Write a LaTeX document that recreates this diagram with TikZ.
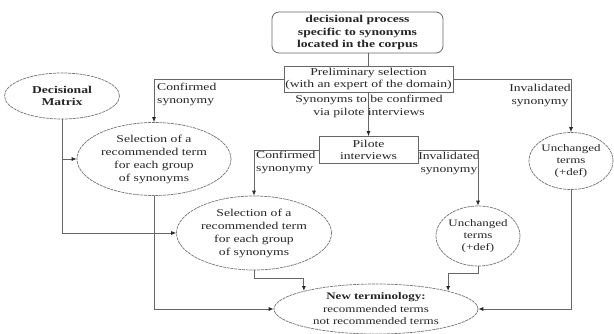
\documentclass[tikz,border=0pt]{standalone}
\usepackage{fontspec}
\setmainfont[FakeStretch=1.3]{Liberation Serif}
\usetikzlibrary{shapes.geometric,arrows.meta}

\begin{document}
\begin{tikzpicture}[x=1pt,y=-1pt,
  txt/.style={font=\fontsize{10.5}{13}\selectfont},
  every node/.style={txt, text=black!85, align=center},
  lbl/.style={inner sep=0pt},
  wire/.style={draw=black!60, line width=0.8pt},
  conn/.style={wire, -{Latex[length=5pt,width=4pt,color=black!85]}},
  oval/.style={ellipse, draw=black!55, line width=0.7pt,
    dash pattern=on 3pt off 0.8pt, inner sep=-1pt},
  boxnode/.style={rectangle, draw=black!60, line width=0.8pt, inner sep=0pt},
]
\fill[white] (0,0) rectangle (614,333);
\useasboundingbox (0,0) rectangle (614,333);

% process boxes
\node[boxnode, rounded corners=7pt, minimum width=171pt, minimum height=41pt,
  font=\bfseries\fontsize{10.5}{12.5}\selectfont] (top) at (357.5,32.5)
  {decisional process\\specific to synonyms\\located in the corpus};
\node[boxnode, minimum width=169pt, minimum height=26pt,
  font=\fontsize{10.5}{12}\selectfont] (prelim) at (368.5,79)
  {Preliminary selection\\(with an expert of the domain)};
\node[boxnode, minimum width=99pt, minimum height=27pt,
  font=\fontsize{10.5}{12}\selectfont] (pil) at (368.5,150)
  {Pilote\\interviews};

% ellipses
\node[oval, minimum width=115pt, minimum height=46pt,
  font=\bfseries\fontsize{10.5}{12}\selectfont] (dm) at (62,96)
  {Decisional\\Matrix};
\node[oval, minimum width=154pt, minimum height=73pt] (sel1) at (154,159)
  {Selection of a\\recommended term\\for each group\\of synonyms};
\node[oval, minimum width=84pt, minimum height=57pt,
  font=\fontsize{10}{12}\selectfont] (unch1) at (571,161)
  {Unchanged\\terms\\(+def)};
\node[oval, minimum width=155pt, minimum height=74pt] (sel2) at (254,233)
  {Selection of a\\recommended term\\for each group\\of synonyms};
\node[oval, minimum width=84pt, minimum height=60pt,
  font=\fontsize{10}{12}\selectfont] (unch2) at (478,236)
  {Unchanged\\terms\\(+def)};
\node[oval, minimum width=204pt, minimum height=50pt,
  font=\fontsize{10}{12.5}\selectfont] (nt) at (376,309)
  {\textbf{New terminology:}\\recommended terms\\not recommended terms};

% connector labels
\node[lbl, anchor=north west, align=left] (lc1) at (157,83) {Confirmed\\synonymy};
\node[lbl] (lmid) at (369,106.5) {Synonyms to be confirmed\\via pilote interviews};
\node[lbl] (li1) at (540,95) {Invalidated\\synonymy};
\node[lbl, anchor=north west, align=left] (lc2) at (256,151) {Confirmed\\synonymy};
\node[lbl] (li2) at (449,163) {Invalidated\\synonymy};

% connectors
\draw[wire] (top.south -| prelim.north) -- (prelim.north);
\draw[conn] (prelim.south) -- (pil.north);
\draw[conn] (prelim.west) -| (sel1.north);
\draw[conn] (prelim.east) -| (unch1.north);
\draw[conn] (dm.south) |- (sel2.west);
\draw[conn] (dm.south |- sel1.west) -- (sel1.west);
\draw[conn] (pil.west) -| (sel2.north);
\draw[conn] (pil.east) -| (unch2.north);
\draw[conn] (sel1.south) |- (nt.west);
\draw[conn] (unch1.south) |- (nt.east);
\draw[conn] (sel2.south) -- ++(0,8) -| (nt.166);
\draw[conn] (unch2.south) -- ++(0,7) -| (nt.14);
\end{tikzpicture}
\end{document}
